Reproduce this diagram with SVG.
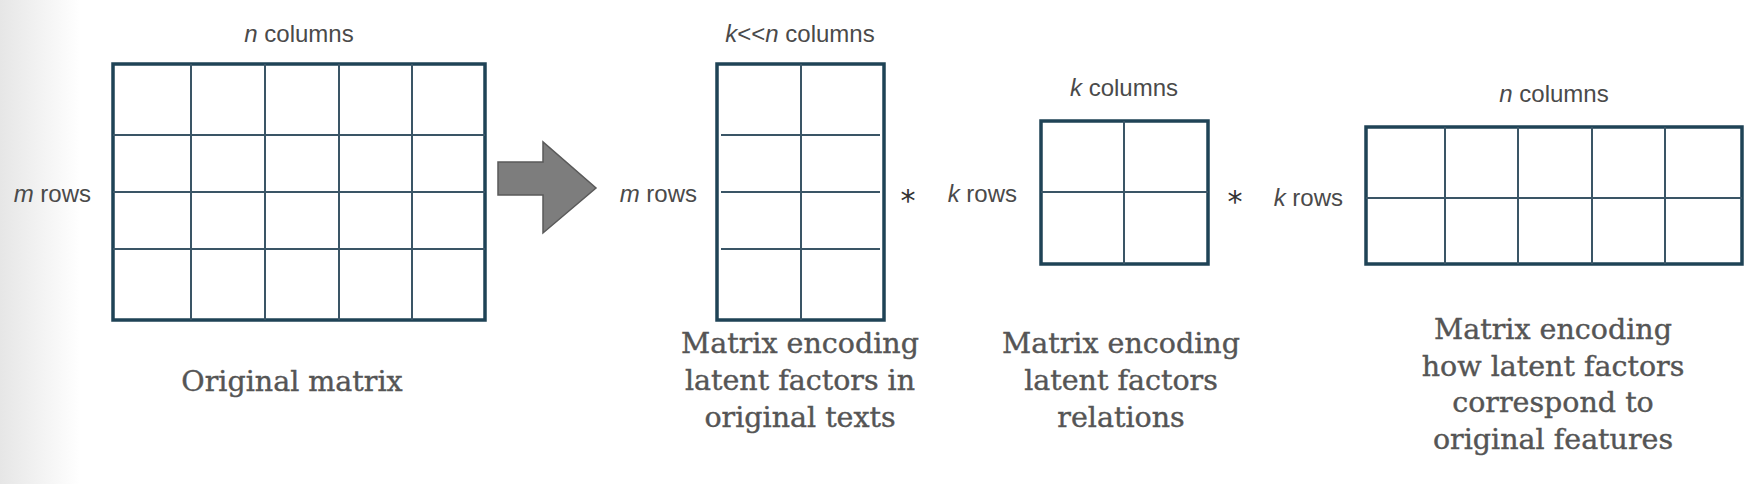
<svg xmlns="http://www.w3.org/2000/svg" width="1762" height="484" viewBox="0 0 1762 484">
<defs>
<linearGradient id="edge" x1="0" y1="0" x2="1" y2="0">
<stop offset="0" stop-color="#e6e6e6"/>
<stop offset="1" stop-color="#ffffff"/>
</linearGradient>
<style>
.border{fill:#ffffff;stroke:#1f4356;stroke-width:3.5}
.grid{stroke:#3a5566;stroke-width:2;fill:none}
.dim{font-family:"Liberation Sans",Arial,sans-serif;font-size:24px;fill:#4a4a4a}
.dim tspan.v{font-style:italic}
.cap{font-family:"DejaVu Serif","Liberation Serif",serif;font-size:28.5px;fill:#555555;stroke:#555555;stroke-width:0.4;text-anchor:middle}
.star{font-family:"DejaVu Sans",sans-serif;font-size:30px;fill:#333333;text-anchor:middle}
</style>
</defs>
<rect x="0" y="0" width="1762" height="484" fill="#ffffff"/>
<rect x="0" y="0" width="80" height="484" fill="url(#edge)"/>

<g id="matrix-original">
<text class="dim" x="299" y="42" text-anchor="middle"><tspan class="v">n</tspan> columns</text>
<text class="dim" x="91" y="202" text-anchor="end"><tspan class="v">m</tspan> rows</text>
<rect class="border" x="113" y="64" width="372" height="256"/>
<path class="grid" d="M191 64V320M265 64V320M339 64V320M412 64V320M113 135H485M113 192H485M113 249H485"/>
<text class="cap" x="292" y="391">Original matrix</text>
</g>

<g id="connectors">
<polygon points="498,162 543,162 543,142 596,188 543,233 543,195 498,195" fill="#7d7d7d" stroke="#5a5a5a" stroke-width="1.5"/>
</g>

<g id="matrix-texts">
<text class="dim" x="800" y="42" text-anchor="middle"><tspan class="v">k</tspan>&lt;&lt;<tspan class="v">n</tspan> columns</text>
<text class="dim" x="697" y="202" text-anchor="end"><tspan class="v">m</tspan> rows</text>
<rect class="border" x="717" y="64" width="167" height="256"/>
<path class="grid" d="M801 64V320M721 135H880M721 192H880M721 249H880"/>
<text class="cap" x="800" y="353">Matrix encoding</text>
<text class="cap" x="800" y="390">latent factors in</text>
<text class="cap" x="800" y="427">original texts</text>
</g>

<text class="star" x="908" y="211">*</text>

<g id="matrix-relations">
<text class="dim" x="1124" y="96" text-anchor="middle"><tspan class="v">k</tspan> columns</text>
<text class="dim" x="1017" y="202" text-anchor="end"><tspan class="v">k</tspan> rows</text>
<rect class="border" x="1041" y="121" width="167" height="143"/>
<path class="grid" d="M1124 121V264M1041 192H1208"/>
<text class="cap" x="1121" y="353">Matrix encoding</text>
<text class="cap" x="1121" y="390">latent factors</text>
<text class="cap" x="1121" y="427">relations</text>
</g>

<text class="star" x="1235" y="212">*</text>

<g id="matrix-features">
<text class="dim" x="1554" y="102" text-anchor="middle"><tspan class="v">n</tspan> columns</text>
<text class="dim" x="1343" y="206" text-anchor="end"><tspan class="v">k</tspan> rows</text>
<rect class="border" x="1366" y="127" width="376" height="137"/>
<path class="grid" d="M1445 127V264M1518 127V264M1592 127V264M1665 127V264M1366 198H1742"/>
<text class="cap" x="1553" y="339">Matrix encoding</text>
<text class="cap" x="1553" y="376">how latent factors</text>
<text class="cap" x="1553" y="412">correspond to</text>
<text class="cap" x="1553" y="449">original features</text>
</g>
</svg>
